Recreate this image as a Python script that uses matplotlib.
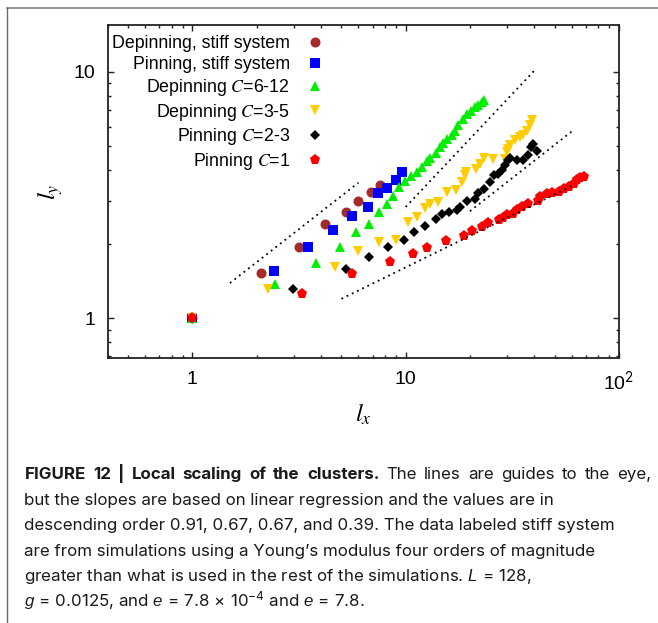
import matplotlib
matplotlib.use("Agg")
import matplotlib.pyplot as plt
import matplotlib.ticker as mticker
from matplotlib.font_manager import FontProperties
from matplotlib.lines import Line2D

plt.rcParams["font.family"] = ["Liberation Sans", "DejaVu Sans"]
plt.rcParams["mathtext.fontset"] = "custom"
plt.rcParams["mathtext.rm"] = "Inter"
plt.rcParams["mathtext.it"] = "Liberation Sans:italic"
plt.rcParams["mathtext.bf"] = "Inter:bold"

# cluster sizes (l_x, l_y)
dep_stiff_x = [1, 2.09, 3.16, 4.18, 5.25, 6.0, 6.85, 7.57]
dep_stiff_y = [1, 1.52, 1.95, 2.42, 2.69, 2.98, 3.26, 3.49]

pin_stiff_x = [1, 2.42, 3.49, 4.56, 5.61, 6.67, 7.44, 8.20, 8.98, 9.64]
pin_stiff_y = [1, 1.55, 1.95, 2.29, 2.61, 2.84, 3.21, 3.39, 3.65, 3.94]

dep_c6_x = [1, 2.43, 3.79, 4.93, 5.87, 6.74, 7.51, 8.15, 8.74, 9.33, 9.95,
            10.56, 11.34, 11.89, 12.55, 13.0, 13.88, 14.49, 15.02, 15.68,
            16.44, 17.04, 17.66, 18.52, 19.34, 20.2, 21.15, 21.93, 22.74, 23.38]
dep_c6_y = [1, 1.38, 1.68, 1.95, 2.24, 2.42, 2.70, 2.90, 3.13, 3.40, 3.60,
            3.78, 3.92, 4.11, 4.33, 4.49, 4.70, 4.95, 5.14, 5.36,
            5.56, 5.78, 6.06, 6.45, 6.76, 6.97, 7.19, 7.37, 7.53, 7.70]

dep_c3_x = [1, 2.25, 4.67, 5.95, 7.49, 9.01, 10.2, 11.34, 12.38, 12.97, 14.22,
            15.63, 17.17, 18.44, 18.98, 19.13, 21.31, 22.33, 23.38, 25.78,
            29.25, 29.8, 30.32, 30.88, 32.6, 34.4, 35.65, 37.24, 38.34, 39.04]
dep_c3_y = [1, 1.31, 1.61, 1.88, 2.04, 2.07, 2.45, 2.58, 2.79, 2.91, 2.96,
            3.27, 3.33, 3.57, 3.80, 3.92, 4.05, 4.24, 4.49, 4.44,
            4.44, 4.73, 4.88, 5.03, 5.27, 5.44, 5.52, 5.78, 6.06, 6.35]

pin_c2_x = [1, 2.97, 5.27, 6.74, 8.24, 9.82, 10.92, 12.28, 13.88, 14.85, 16.0,
            17.36, 17.99, 19.34, 21.15, 21.93, 23.31, 24.88, 25.98, 27.21,
            28.41, 29.25, 30.32, 30.88, 33.2, 35.65, 37.63, 38.73, 39.47, 41.2]
pin_c2_y = [1, 1.31, 1.58, 1.77, 1.95, 2.08, 2.23, 2.38, 2.52, 2.64, 2.70,
            2.76, 2.83, 2.99, 3.06, 3.21, 3.36, 3.57, 3.80, 3.86,
            3.98, 4.17, 4.37, 4.49, 4.37, 4.40, 4.58, 4.95, 5.11, 4.76]

pin_c1_x = [1, 3.25, 5.58, 8.40, 10.86, 12.63, 15.41, 18.84, 20.41, 22.89,
            24.42, 27.51, 28.72, 29.8, 32.0, 33.2, 35.05, 37.63, 41.5, 42.7,
            45.9, 48.5, 52.05, 54.95, 58.0, 61.2, 63.5, 65.8, 68.7]
pin_c1_y = [1, 1.25, 1.51, 1.69, 1.82, 1.93, 2.06, 2.16, 2.26, 2.34,
            2.44, 2.50, 2.55, 2.62, 2.66, 2.74, 2.83, 2.92, 2.99, 3.11,
            3.19, 3.23, 3.26, 3.36, 3.41, 3.52, 3.63, 3.72, 3.74]

# guide lines (start, end) in data units
guide_x = [[1.5, 6.0], [10.0, 40.0], [20.0, 60.0], [5.0, 60.0]]
guide_y = [[1.39, 3.55], [2.83, 10.1], [2.72, 5.73], [1.2, 3.44]]

labels = ["Depinning, stiff system", "Pinning, stiff system",
          "Depinning $C$=6-12", "Depinning $C$=3-5",
          "Pinning $C$=2-3", "Pinning $C$=1"]

xtick_pos = [1, 10, 100]
xtick_lab = ["1", "10", "10$^2$"]
ytick_pos = [1, 10]
ytick_lab = ["1", "10"]

caption_bold = "FIGURE 12 | Local scaling of the clusters."
caption_lines = [
    "The lines are guides to the eye,",
    "but the slopes are based on linear regression and the values are in",
    "descending order 0.91, 0.67, 0.67, and 0.39. The data labeled stiff system",
    "are from simulations using a Young\u2019s modulus four orders of magnitude",
    "greater than what is used in the rest of the simulations. $L\\,=\\,128$,",
    "$g\\,=\\,0.0125$, and $e\\,=\\,7.8\\,\\times\\,10^{-4}$ and $e\\,=\\,7.8$.",
]

W, H = 658, 623
fig = plt.figure(figsize=(W / 100, H / 100), dpi=100)
ax = fig.add_axes([107.5 / W, 1 - 358 / H, (619 - 107.5) / W, (358 - 25) / H])

series = [
    (dep_stiff_x, dep_stiff_y, "o", 7.2, "#a52a2a"),
    (pin_stiff_x, pin_stiff_y, "s", 6.8, "#0000ff"),
    (dep_c6_x, dep_c6_y, "^", 7.8, "#00ee00"),
    (dep_c3_x, dep_c3_y, "v", 7.8, "#ffcc00"),
    (pin_c2_x, pin_c2_y, "D", 5.6, "#000000"),
    (pin_c1_x, pin_c1_y, "p", 8.0, "#ff0000"),
]
for (xs, ys, mk, ms, col), lab in zip(series, labels):
    ax.plot(xs, ys, linestyle="none", marker=mk, markersize=ms,
            color=col, markeredgewidth=0, label=lab)

for gx, gy in zip(guide_x, guide_y):
    ax.plot(gx, gy, color="black", linestyle=(0, (1, 2.2)), linewidth=1.3)

ax.set_xscale("log")
ax.set_yscale("log")
ax.set_xlim(0.4, 100)
ax.set_ylim(0.69, 15.5)
ax.xaxis.set_major_locator(mticker.FixedLocator(xtick_pos))
ax.xaxis.set_major_formatter(mticker.FixedFormatter(xtick_lab))
ax.yaxis.set_major_locator(mticker.FixedLocator(ytick_pos))
ax.yaxis.set_major_formatter(mticker.FixedFormatter(ytick_lab))
ax.xaxis.set_minor_formatter(mticker.NullFormatter())
ax.yaxis.set_minor_formatter(mticker.NullFormatter())
ax.tick_params(which="both", direction="in", top=True, right=True,
               color="#222222", width=1.0)
ax.tick_params(which="major", length=4.0, labelsize=14)
ax.tick_params(axis="x", which="major", pad=9)
ax.tick_params(axis="y", which="major", pad=9)
ax.tick_params(which="minor", length=2.0)
for sp in ax.spines.values():
    sp.set_linewidth(1.3)
    sp.set_color("#222222")

ax.set_xlabel("$l_x$", fontsize=18, math_fontfamily="stix", labelpad=6)
ax.set_ylabel("$l_y$", fontsize=18, math_fontfamily="stix", labelpad=6)

leg_font = FontProperties(family="Liberation Sans", size=12.8, math_fontfamily="stix")
ax.legend(loc="upper right", bbox_to_anchor=(323 / W, 1 - 35.5 / H),
          bbox_transform=fig.transFigure, frameon=False, markerfirst=False,
          numpoints=1, handlelength=0.9, handletextpad=0.95, borderpad=0,
          borderaxespad=0, labelspacing=0.21, prop=leg_font)

# caption below the plot
cap_left = 24.5
cap_right = 651.0
cap_base = 479.3
cap_step = 25.5
cap_size = 12.2
cap_font = ["Inter", "Liberation Sans"]
ink = "#1a1a1a"

# first line is justified: spread its words between the two margins
words = [(w, "bold") for w in caption_bold.split()]
words += [(w, "normal") for w in caption_lines[0].split()]
pieces = [fig.text(0, 1 - cap_base / H, w, fontsize=cap_size, family=cap_font,
                   fontweight=wt, va="baseline", ha="left", color=ink)
          for w, wt in words]
renderer = fig.canvas.get_renderer()
widths = [t.get_window_extent(renderer).width for t in pieces]
gap = (cap_right - cap_left - sum(widths)) / (len(pieces) - 1)
xpos = cap_left
for t, wd in zip(pieces, widths):
    t.set_x(xpos / W)
    xpos += wd + gap

for i, line in enumerate(caption_lines[1:], start=1):
    fig.text(cap_left / W, 1 - (cap_base + i * cap_step) / H, line,
             fontsize=cap_size, family=cap_font, va="baseline", ha="left",
             color=ink)

# outer frame (top and left edges)
fig.add_artist(Line2D([7 / W, 1], [1 - 7.5 / H, 1 - 7.5 / H],
                      transform=fig.transFigure, color="#8a8a8a", lw=1.3))
fig.add_artist(Line2D([7 / W, 7 / W], [0, 1 - 7.5 / H],
                      transform=fig.transFigure, color="#6a6a6a", lw=1.0))

fig.savefig("out.png", dpi=100)
